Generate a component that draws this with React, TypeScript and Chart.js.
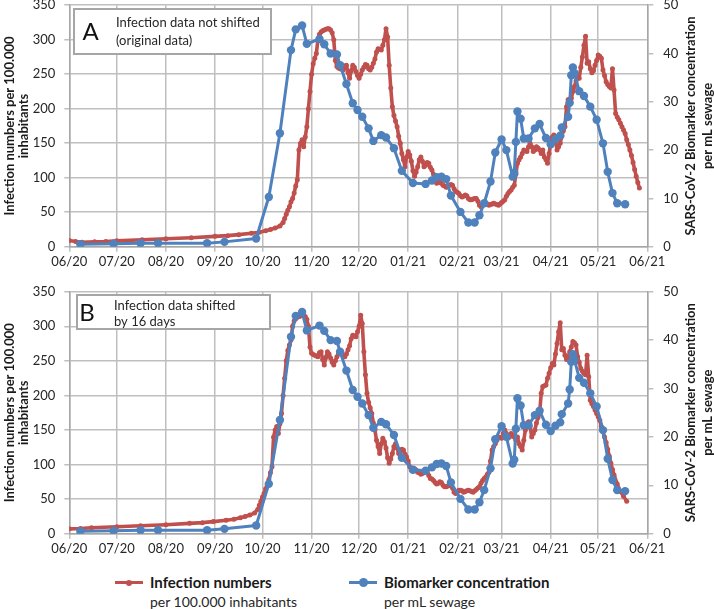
import React, { useEffect, useRef } from 'react';
import { Chart, registerables } from 'chart.js';

Chart.register(...registerables);

// ---------- data ----------
// x positions are days since 2020-06-01
const monthLabels = ['06/20', '07/20', '08/20', '09/20', '10/20', '11/20', '12/20', '01/21', '02/21', '03/21', '04/21', '05/21', '06/21'];
const monthStartDays = [0, 30, 61, 92, 122, 153, 183, 214, 245, 273, 304, 334, 365];

const leftAxisTitle = ['Infection numbers per 100.000', 'inhabitants'];
const rightAxisTitle = ['SARS-CoV-2 Biomarker concentration', 'per mL sewage'];

const SHIFT_DAYS = 16;

// Infection numbers per 100.000 inhabitants (original dates)
const infectionDays = [
  0, 4, 8, 16, 23, 30, 46, 61, 77, 92, 100, 107, 115, 120, 124, 127, 130, 133, 135, 136,
  137, 138, 139, 140, 141, 142, 143, 144, 145, 146, 147, 148, 149, 150, 151, 152, 153, 154, 155, 156,
  157, 158, 159, 160, 161, 162, 163, 164, 165, 166, 167, 168, 169, 170, 171, 172, 173, 174, 175, 176,
  177, 178, 179, 180, 181, 182, 183, 184, 185, 186, 187, 188, 189, 190, 191, 192, 193, 194, 195, 196,
  197, 198, 199, 200, 201, 202, 203, 204, 205, 206, 207, 208, 209, 210, 211, 212, 213, 214, 215, 216,
  217, 218, 219, 220, 221, 222, 223, 224, 225, 226, 227, 228, 229, 230, 231, 232, 233, 234, 235, 236,
  237, 238, 239, 240, 241, 242, 243, 244, 245, 246, 247, 248, 249, 250, 251, 252, 253, 254, 255, 256,
  257, 258, 259, 260, 261, 262, 263, 264, 265, 266, 267, 268, 269, 270, 271, 272, 273, 274, 275, 276,
  277, 278, 279, 280, 281, 282, 283, 284, 285, 286, 287, 288, 289, 290, 291, 292, 293, 294, 295, 296,
  297, 298, 299, 300, 301, 302, 303, 304, 305, 306, 307, 308, 309, 310, 311, 312, 313, 314, 315, 316,
  317, 318, 319, 320, 321, 322, 323, 324, 325, 326, 327, 328, 329, 330, 331, 332, 333, 334, 335, 336,
  337, 338, 339, 340, 341, 342, 343, 344, 345, 346, 347, 348, 349, 350, 351, 352, 353, 354, 355, 356,
  357, 358, 359, 360, 362, 364, 366, 368,
];
const infectionValues = [
  9, 7.5, 6.5, 7, 7.5, 8.5, 10, 11.5, 13, 15, 16, 17.5, 19.5, 21, 23, 25, 27, 30, 35, 41,
  47, 53, 58, 65, 70, 78, 88, 97, 140, 150, 155, 145, 159, 174, 200, 225, 250, 265, 273, 280,
  300, 308, 311, 313, 314, 315, 316, 316, 314, 310, 300, 270, 261, 259, 258, 257, 256, 262, 263, 252,
  244, 255, 263, 260, 254, 248, 244, 250, 256, 260, 264, 263, 258, 256, 260, 266, 272, 282, 287, 286,
  285, 292, 300, 316, 304, 263, 230, 203, 190, 182, 174, 160, 150, 135, 126, 116, 130, 138, 133, 124,
  110, 102, 108, 116, 126, 130, 124, 116, 118, 122, 121, 115, 111, 105, 97, 92, 93, 94, 92, 89,
  88, 86, 87, 89, 90, 89, 84, 80, 79, 77, 74, 72, 73, 75, 74, 70, 68, 68, 69, 70,
  70, 66, 60, 58, 60, 63, 63, 62, 60, 61, 62, 63, 62, 61, 60, 62, 64, 66, 68, 73,
  77, 80, 82, 86, 89, 105, 121, 126, 130, 135, 140, 139, 138, 145, 150, 145, 138, 140, 145, 143,
  140, 135, 140, 130, 126, 121, 135, 150, 159, 162, 155, 140, 145, 150, 160, 168, 174, 203, 213, 214,
  215, 225, 232, 240, 246, 244, 260, 275, 292, 305, 266, 268, 258, 252, 255, 263, 270, 278, 276, 273,
  256, 248, 239, 235, 232, 230, 258, 227, 193, 188, 184, 179, 174, 169, 164, 155, 148, 140, 132, 122,
  112, 102, 93, 85, 72, 61, 54, 47,
];
const LAST_DAY_UNSHIFTED = 360;

// SARS-CoV-2 biomarker concentration per mL sewage
const biomarkerDays = [
  7, 28, 45, 56, 87, 98, 118, 126, 133, 140, 143, 147, 150, 158, 161, 165, 169, 171, 175, 179,
  182, 185, 189, 192, 197, 200, 205, 210, 217, 225, 229, 232, 235, 238, 241, 247, 252, 256, 259, 262,
  266, 269, 273, 276, 280, 281, 282, 283, 285, 287, 290, 294, 297, 301, 304, 307, 310, 311, 315, 316,
  317, 318, 319, 322, 325, 329, 333, 337, 340, 343, 346, 351,
];
const biomarkerValues = [
  0.5, 0.6, 0.7, 0.7, 0.7, 1.0, 1.7, 10.3, 23.5, 40.7, 45, 45.8, 42, 43, 41.9, 40, 39.8, 37.6, 33.7, 29.7,
  28.3, 26.9, 24.5, 21.9, 23.1, 22.6, 20.4, 15.7, 13.2, 13.0, 13.7, 14.4, 14.5, 14.0, 10.6, 7.2, 5.0, 5.0, 6.5, 9.0,
  13.5, 19.5, 22.2, 20, 14.5, 15.3, 21.7, 28, 26.5, 22.4, 22.4, 24.5, 25.4, 22.5, 21.2, 22.3, 23, 24.7, 26.9, 29.8,
  35.5, 37.1, 35.9, 32.2, 31.2, 29, 26.3, 21.4, 15.5, 11.1, 9, 8.8,
];

const RED = '#C0504D';
const BLUE = '#4F81BD';
const GRID = '#bfbfbf';
const TEXT = '#262626';
const FONT = 'Lato';

Chart.defaults.font.family = FONT;

type PanelCfg = {
  top: number;
  height: number;
  padTop: number;
  xAxisHeight: number;
  shift: number;
  letter: string;
  lines: string[];
  box: { x: number; y: number; w: number; h: number };
  letterPos: { x: number; y: number };
  textPos: { x: number; y1: number; y2: number };
};

const panelA: PanelCfg = {
  top: 0, height: 272, padTop: 5.2, xAxisHeight: 272 - 246.7, shift: 0,
  letter: 'A', lines: ['Infection data not shifted', '(original data)'],
  box: { x: 74, y: 9, w: 197, h: 45 }, letterPos: { x: 90.5, y: 32 }, textPos: { x: 116, y1: 23, y2: 41 },
};
const panelB: PanelCfg = {
  top: 280, height: 285, padTop: 11.7, xAxisHeight: 285 - 253.7, shift: SHIFT_DAYS,
  letter: 'B', lines: ['Infection data shifted', 'by 16 days'],
  box: { x: 77, y: 15, w: 193, h: 34 }, letterPos: { x: 87, y: 33 }, textPos: { x: 114, y1: 26, y2: 42 },
};

const overlayPlugin = {
  id: 'overlay',
  afterDraw(chart: any, _args: any, opts: any) {
    const cfg: PanelCfg = opts.cfg;
    const ctx = chart.ctx;
    const ca = chart.chartArea;
    const cy = (ca.top + ca.bottom) / 2;
    ctx.save();
    ctx.fillStyle = '#1a1a1a';
    ctx.textAlign = 'center';
    ctx.textBaseline = 'middle';
    ctx.font = `bold 13px ${FONT}`;
    // left title
    [10, 24].forEach((x, i) => {
      ctx.save();
      ctx.translate(x, cy);
      ctx.rotate(-Math.PI / 2);
      ctx.fillText(leftAxisTitle[i], 0, 0);
      ctx.restore();
    });
    // right title
    [691, 708].forEach((x, i) => {
      ctx.save();
      ctx.translate(x, cy);
      ctx.rotate(-Math.PI / 2);
      ctx.fillText(rightAxisTitle[i], 0, 0);
      ctx.restore();
    });
    // text box
    const b = cfg.box;
    ctx.fillStyle = '#ffffff';
    ctx.fillRect(b.x, b.y, b.w, b.h);
    ctx.strokeStyle = '#a6a6a6';
    ctx.lineWidth = 2;
    ctx.strokeRect(b.x, b.y, b.w, b.h);
    ctx.fillStyle = '#111';
    ctx.font = `24px ${FONT}`;
    ctx.fillText(cfg.letter, cfg.letterPos.x, cfg.letterPos.y);
    ctx.font = `13px ${FONT}`;
    ctx.textAlign = 'left';
    ctx.fillStyle = '#262626';
    ctx.fillText(cfg.lines[0], cfg.textPos.x, cfg.textPos.y1);
    ctx.fillText(cfg.lines[1], cfg.textPos.x, cfg.textPos.y2);
    ctx.restore();
  },
};

function Panel({ cfg }: { cfg: PanelCfg }) {
  const ref = useRef<HTMLCanvasElement>(null);
  useEffect(() => {
    if (!ref.current) return;
    const redPts = infectionDays
      .map((d, i) => ({ d, x: d - cfg.shift, y: infectionValues[i] }))
      .filter((p) => (cfg.shift === 0 ? p.d <= LAST_DAY_UNSHIFTED : true) && p.x >= 0)
      .map((p) => ({ x: p.x, y: p.y }));
    const bluePts = biomarkerDays.map((d, i) => ({ x: d, y: biomarkerValues[i] }));

    const chart = new Chart(ref.current, {
      type: 'line',
      data: {
        datasets: [
          {
            label: 'Biomarker concentration',
            data: bluePts,
            yAxisID: 'y2',
            borderColor: BLUE,
            backgroundColor: BLUE,
            borderWidth: 3,
            borderJoinStyle: 'round',
            borderCapStyle: 'round',
            pointRadius: 4.2,
            pointBorderWidth: 0,
            tension: 0,
          },
          {
            label: 'Infection numbers',
            data: redPts,
            yAxisID: 'y',
            borderColor: RED,
            backgroundColor: RED,
            borderWidth: 3.6,
            borderJoinStyle: 'round',
            borderCapStyle: 'round',
            pointRadius: 2.5,
            pointBorderWidth: 0,
            tension: 0,
          },
        ],
      },
      options: {
        animation: false,
        responsive: false,
        maintainAspectRatio: false,
        layout: { padding: { top: cfg.padTop, left: 0, right: 0, bottom: 0 } },
        plugins: {
          legend: { display: false },
          tooltip: { enabled: false },
          overlay: { cfg },
        } as any,
        scales: {
          x: {
            type: 'linear',
            min: 0,
            max: 365,
            afterBuildTicks: (s: any) => {
              s.ticks = monthStartDays.map((v) => ({ value: v }));
            },
            afterFit: (s: any) => {
              s.height = cfg.xAxisHeight;
              s.paddingLeft = 0;
              s.paddingRight = 0;
            },
            ticks: {
              autoSkip: false,
              maxRotation: 0,
              padding: 2,
              color: TEXT,
              font: { size: 13, family: FONT },
              callback: (v: any) => monthLabels[monthStartDays.indexOf(Number(v))] ?? '',
            },
            grid: { color: GRID, lineWidth: 1.5, tickLength: 5 },
            border: { color: '#a6a6a6', width: 1.5 },
          },
          y: {
            position: 'left',
            min: 0,
            max: 350,
            afterFit: (s: any) => {
              s.width = 69.3;
              s.paddingTop = 0;
              s.paddingBottom = 0;
            },
            ticks: { stepSize: 50, padding: 9, color: TEXT, font: { size: 13, family: FONT } },
            grid: { color: GRID, lineWidth: 1.5, tickLength: 5 },
            border: { color: '#a6a6a6', width: 1.5 },
          },
          y2: {
            position: 'right',
            min: 0,
            max: 50,
            afterFit: (s: any) => {
              s.width = 714 - 647.3;
              s.paddingTop = 0;
              s.paddingBottom = 0;
            },
            ticks: { stepSize: 10, padding: 10, color: TEXT, font: { size: 13, family: FONT } },
            grid: { drawOnChartArea: false, color: GRID, lineWidth: 1.5, tickLength: 6 },
            border: { color: '#a6a6a6', width: 1.5 },
          },
        } as any,
      },
      plugins: [overlayPlugin],
    });
    return () => chart.destroy();
  }, [cfg]);
  return (
    <canvas
      ref={ref}
      width={714}
      height={cfg.height}
      style={{ position: 'absolute', left: 0, top: cfg.top, width: 714, height: cfg.height }}
    />
  );
}

function LegendItem({ color, marker, title, sub, left }: { color: string; marker: number; title: string; sub: string; left: number }) {
  return (
    <div style={{ position: 'absolute', left, top: 572, height: 40 }}>
      <div style={{ position: 'absolute', left: 0, top: 9, width: 28, height: 3, background: color }} />
      <div
        style={{
          position: 'absolute',
          left: 14 - marker / 2,
          top: 10.5 - marker / 2,
          width: marker,
          height: marker,
          borderRadius: '50%',
          background: color,
        }}
      />
      <div style={{ position: 'absolute', left: 35, top: 0, whiteSpace: 'nowrap', fontWeight: 700, fontSize: 15, lineHeight: '20px', color: '#1a1a1a' }}>
        {title}
      </div>
      <div style={{ position: 'absolute', left: 35, top: 20, whiteSpace: 'nowrap', fontSize: 14, lineHeight: '19px', color: '#262626' }}>
        {sub}
      </div>
    </div>
  );
}

export default function App() {
  return (
    <div style={{ position: 'fixed', left: 0, top: 0, width: 714, height: 609, background: '#fff', fontFamily: FONT, overflow: 'hidden' }}>
      <Panel cfg={panelA} />
      <Panel cfg={panelB} />
      <LegendItem color={RED} marker={6} title="Infection numbers" sub="per 100.000 inhabitants" left={115} />
      <LegendItem color={BLUE} marker={9} title="Biomarker concentration" sub="per mL sewage" left={349} />
    </div>
  );
}
